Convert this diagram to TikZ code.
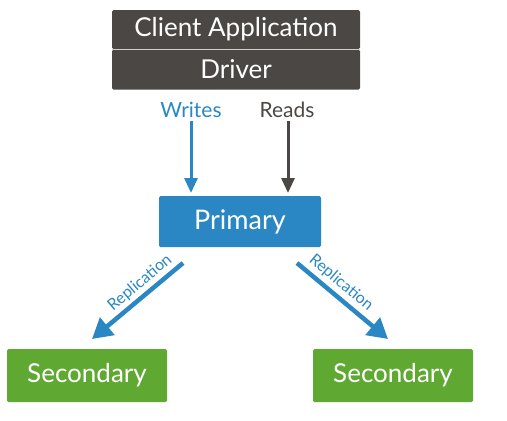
\documentclass[tikz,border=0pt]{standalone}
\usepackage{fontspec}
\setmainfont{Lato}
\usetikzlibrary{arrows.meta}
\definecolor{dgray}{HTML}{4A4744}
\definecolor{mblue}{HTML}{2A87C4}
\definecolor{mgreen}{HTML}{5FA832}
\tikzset{
  boxbase/.style={rectangle, rounded corners=1.5pt, inner sep=0pt, text=white},
  clientbox/.style={boxbase, fill=dgray, minimum width=248pt, minimum height=39pt, font=\fontsize{26}{28}\selectfont},
  primbox/.style={boxbase, fill=mblue, minimum width=162pt, minimum height=51pt, font=\fontsize{27}{29}\selectfont},
  secbox/.style={boxbase, fill=mgreen, minimum width=160pt, minimum height=53pt, font=\fontsize{26}{28}\selectfont},
  lbl/.style={inner sep=0pt, font=\fontsize{21}{23}\selectfont},
  replbl/.style={inner sep=0pt, text=mblue, font=\fontsize{16}{18}\selectfont},
  rwarrow/.style={line width=3pt, -{Triangle[length=15pt, width=13pt]}},
  reparrow/.style={line width=4.5pt, draw=mblue, -{Triangle[length=20pt, width=22pt]}},
}
\begin{document}
\begin{tikzpicture}[x=1pt, y=-1pt]
\useasboundingbox (0,0) rectangle (507,421);
\node[clientbox] (app) at (236,29.5) {Client Application};
\node[clientbox, minimum height=40pt] (drv) at (236,69.5) {Driver};
\draw[white!75!dgray, line width=0.8pt] (app.south west) -- (app.south east);
\node[lbl, text=mblue] (wr) at (191,110) {Writes};
\node[lbl, text=dgray] (rd) at (287,110) {Reads};
\node[primbox] (prim) at (240,221.5) {Primary};
\node[secbox] (s1) at (87,375.5) {Secondary};
\node[secbox] (s2) at (393,375.5) {Secondary};
\coordinate (wstart) at (191,121);
\coordinate (wend) at (191,193);
\coordinate (rstart) at (288,121);
\coordinate (rend) at (288,193);
\draw[rwarrow, draw=mblue] (wstart) -- (wend);
\draw[rwarrow, draw=dgray] (rstart) -- (rend);
\coordinate (l0) at (183,263);
\coordinate (l1) at (92,339);
\coordinate (r0) at (297,263);
\coordinate (r1) at (388,339);
\draw[reparrow] (l0) -- (l1);
\draw[reparrow] (r0) -- (r1);
\node[replbl, rotate=40] (lr) at (140,283) {Replication};
\node[replbl, rotate=-40] (rr) at (341,283) {Replication};
\end{tikzpicture}
\end{document}
